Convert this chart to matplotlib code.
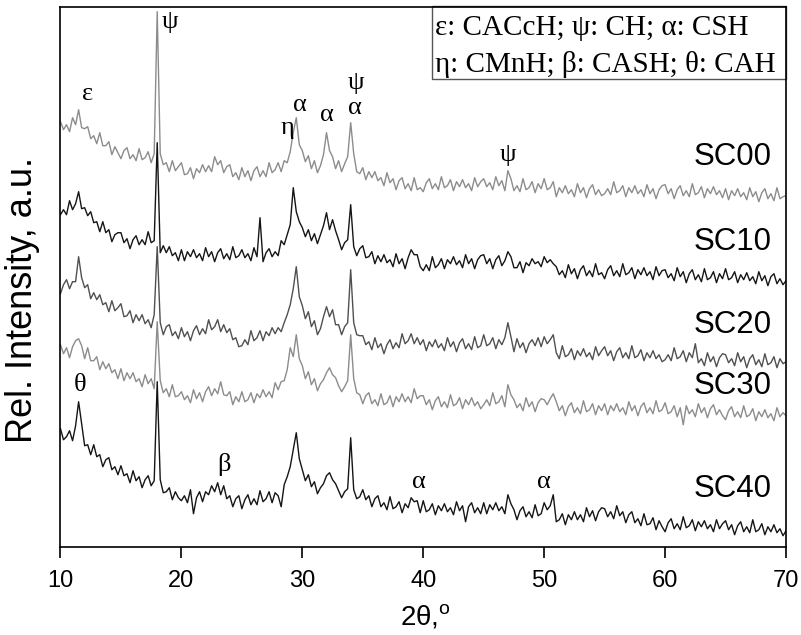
import numpy as np
import matplotlib
matplotlib.use('Agg')
import matplotlib.pyplot as plt
from matplotlib.patches import Rectangle

# 2theta scan, 0.25 deg step
two_theta = np.linspace(10, 70, 241)

sc00 = [425, 417, 422, 415, 429, 422, 437, 419, 418, 420, 408, 411, 403, 414, 401, 401, 405, 392, 400, 394,
        388, 396, 399, 388, 392, 386, 398, 387, 389, 395, 384, 393, 535, 393, 382, 384, 375, 386, 376, 380,
        384, 372, 373, 379, 368, 378, 374, 382, 375, 381, 375, 390, 382, 386, 374, 380, 382, 370, 374, 367,
        379, 370, 376, 366, 376, 380, 370, 376, 370, 384, 374, 377, 384, 375, 386, 384, 395, 414, 429, 402,
        396, 385, 391, 378, 386, 374, 381, 392, 414, 396, 390, 378, 386, 375, 383, 390, 424, 393, 375, 373,
        379, 367, 375, 369, 375, 366, 369, 361, 374, 364, 368, 357, 366, 369, 358, 363, 356, 369, 357, 359,
        355, 364, 368, 358, 363, 357, 370, 359, 361, 367, 356, 365, 360, 367, 359, 363, 356, 369, 360, 365,
        368, 360, 364, 357, 370, 361, 366, 356, 376, 368, 356, 361, 355, 368, 357, 359, 365, 354, 363, 358,
        368, 357, 359, 365, 350, 359, 354, 361, 353, 357, 350, 363, 354, 359, 349, 358, 362, 352, 357, 351,
        353, 358, 352, 365, 354, 356, 361, 350, 359, 354, 361, 353, 357, 350, 362, 353, 358, 348, 357, 361,
        362, 353, 358, 348, 357, 361, 351, 356, 350, 363, 352, 354, 360, 349, 358, 353, 360, 352, 356, 349,
        358, 347, 356, 351, 358, 350, 354, 347, 359, 350, 355, 345, 354, 358, 348, 353, 346, 359, 348, 350,
        351]

sc10 = [332, 337, 332, 346, 337, 343, 355, 338, 339, 331, 335, 324, 325, 315, 325, 314, 317, 305, 312, 314,
        314, 304, 308, 298, 307, 311, 302, 307, 302, 315, 304, 306, 404, 294, 301, 294, 300, 291, 294, 286,
        297, 286, 295, 290, 297, 289, 293, 286, 299, 290, 295, 285, 294, 298, 288, 293, 287, 300, 289, 291,
        297, 289, 293, 286, 299, 290, 329, 285, 294, 298, 290, 295, 291, 306, 302, 312, 322, 359, 335, 325,
        319, 310, 317, 306, 313, 303, 312, 321, 334, 317, 327, 316, 307, 297, 304, 307, 342, 300, 291, 298,
        301, 289, 290, 295, 283, 291, 285, 292, 284, 287, 280, 293, 283, 288, 278, 289, 297, 292, 292, 280,
        276, 282, 276, 290, 279, 282, 288, 278, 287, 283, 290, 282, 286, 279, 292, 283, 288, 278, 287, 291,
        292, 283, 288, 278, 287, 291, 281, 286, 295, 290, 279, 279, 285, 274, 284, 281, 288, 283, 285, 280,
        290, 284, 287, 283, 280, 272, 276, 269, 282, 273, 278, 268, 277, 281, 271, 276, 270, 283, 272, 274,
        268, 277, 281, 271, 276, 270, 283, 272, 274, 279, 268, 277, 272, 279, 271, 275, 267, 280, 271, 276,
        277, 269, 273, 266, 279, 270, 275, 264, 273, 277, 267, 272, 265, 278, 267, 269, 275, 264, 273, 268,
        278, 267, 269, 275, 264, 272, 267, 274, 266, 270, 263, 275, 266, 271, 261, 270, 273, 263, 268, 262,
        266]

sc20 = [253, 262, 267, 258, 265, 265, 290, 269, 259, 262, 248, 254, 247, 252, 242, 244, 235, 246, 236, 239,
        243, 230, 231, 236, 224, 232, 226, 232, 223, 227, 219, 232, 300, 224, 212, 220, 222, 211, 215, 208,
        219, 210, 215, 206, 216, 221, 212, 218, 213, 227, 217, 220, 227, 215, 222, 214, 218, 207, 209, 200,
        201, 207, 202, 216, 206, 209, 216, 206, 215, 211, 219, 213, 219, 215, 224, 232, 242, 258, 280, 250,
        241, 228, 235, 220, 226, 212, 218, 230, 240, 230, 237, 222, 222, 212, 220, 224, 277, 224, 212, 211,
        211, 202, 205, 197, 209, 199, 203, 193, 202, 207, 198, 204, 199, 213, 203, 206, 213, 203, 209, 202,
        207, 196, 205, 200, 207, 199, 203, 196, 209, 200, 205, 195, 204, 208, 198, 203, 197, 210, 199, 201,
        212, 201, 203, 209, 198, 207, 202, 209, 224, 210, 195, 208, 199, 204, 194, 203, 207, 201, 209, 200,
        210, 203, 207, 212, 194, 188, 201, 190, 192, 198, 187, 196, 191, 198, 190, 194, 187, 200, 191, 196,
        200, 191, 196, 186, 195, 199, 189, 194, 188, 201, 189, 191, 197, 186, 194, 189, 196, 188, 192, 185,
        187, 192, 186, 199, 188, 190, 196, 185, 194, 189, 203, 184, 188, 181, 194, 185, 190, 180, 189, 193,
        192, 184, 188, 181, 194, 185, 190, 179, 188, 192, 182, 187, 180, 193, 182, 184, 190, 179, 188, 183,
        185]

sc30 = [202, 193, 199, 189, 200, 206, 208, 201, 188, 199, 186, 186, 190, 177, 185, 178, 183, 174, 177, 168,
        178, 166, 174, 168, 174, 165, 168, 160, 172, 163, 168, 158, 225, 166, 154, 158, 150, 162, 150, 151,
        155, 147, 151, 144, 157, 148, 154, 145, 155, 160, 151, 158, 153, 165, 152, 151, 155, 142, 150, 145,
        155, 145, 147, 154, 144, 153, 149, 157, 150, 155, 149, 164, 157, 165, 166, 177, 199, 190, 212, 188,
        181, 168, 175, 162, 168, 156, 163, 167, 174, 179, 172, 169, 161, 155, 160, 166, 212, 168, 154, 152,
        143, 151, 154, 143, 147, 141, 153, 142, 144, 151, 140, 150, 145, 153, 145, 150, 144, 158, 148, 151,
        151, 142, 147, 137, 146, 150, 140, 145, 139, 152, 141, 143, 149, 138, 147, 142, 149, 141, 145, 138,
        142, 147, 141, 154, 143, 145, 151, 140, 162, 152, 147, 139, 143, 136, 149, 140, 145, 135, 144, 148,
        147, 142, 148, 153, 145, 136, 141, 131, 140, 144, 134, 139, 133, 146, 135, 137, 143, 132, 141, 136,
        143, 132, 141, 136, 143, 135, 139, 132, 145, 136, 141, 131, 140, 144, 134, 139, 133, 146, 135, 137,
        144, 133, 135, 141, 130, 139, 122, 141, 133, 137, 130, 143, 134, 139, 129, 138, 142, 132, 137, 131,
        127, 136, 140, 130, 135, 129, 141, 130, 132, 138, 126, 135, 130, 137, 129, 133, 126, 139, 130, 134,
        131]

sc40 = [118, 107, 110, 116, 106, 121, 145, 123, 101, 102, 92, 102, 90, 92, 80, 87, 89, 77, 80, 72,
        81, 71, 73, 64, 76, 66, 70, 59, 67, 71, 61, 66, 165, 67, 54, 55, 59, 47, 55, 49,
        46, 51, 44, 57, 33, 49, 55, 45, 55, 52, 61, 55, 64, 52, 61, 48, 51, 40, 48, 51,
        38, 47, 52, 42, 48, 42, 56, 45, 48, 55, 44, 54, 51, 40, 62, 70, 80, 97, 114, 88,
        77, 66, 72, 60, 65, 53, 59, 63, 71, 74, 67, 63, 56, 49, 55, 58, 109, 57, 48, 50,
        57, 47, 51, 40, 48, 51, 40, 44, 37, 50, 38, 40, 45, 34, 43, 39, 49, 45, 46, 34,
        46, 35, 37, 43, 32, 41, 36, 43, 35, 39, 32, 45, 36, 41, 25, 40, 44, 34, 39, 33,
        44, 33, 42, 37, 44, 36, 40, 33, 52, 43, 37, 27, 36, 40, 30, 35, 29, 42, 31, 33,
        44, 37, 41, 52, 25, 27, 33, 22, 32, 27, 35, 27, 32, 25, 39, 30, 36, 26, 35, 39,
        38, 30, 35, 28, 41, 31, 35, 24, 32, 35, 24, 28, 21, 33, 22, 23, 29, 17, 26, 20,
        15, 24, 28, 18, 23, 17, 30, 19, 21, 27, 16, 25, 20, 26, 18, 22, 15, 27, 18, 23,
        26, 17, 22, 12, 21, 25, 15, 20, 14, 27, 15, 17, 23, 12, 20, 15, 22, 14, 18, 11,
        16]

samples = ['SC00', 'SC10', 'SC20', 'SC30', 'SC40']
patterns = [sc00, sc10, sc20, sc30, sc40]
colors = ['#8c8c8c', '#151515', '#505050', '#8c8c8c', '#151515']
label_y = [390, 305, 222, 161, 58]

# phase marks: symbol, 2theta, height
peak_sym = ['ψ', 'ε', 'η', 'α', 'α', 'ψ', 'α', 'ψ', 'θ', 'β', 'α', 'α']
peak_x = [19.05, 12.25, 28.75, 29.8, 32.05, 34.4, 34.35, 47.0, 11.6, 23.5, 39.6, 50.0]
peak_y = [525, 453, 419, 442, 432, 464, 439, 392, 162, 82, 65, 65]

legend_lines = ['ε: CACcH; ψ: CH; α: CSH', 'η: CMnH; β: CASH; θ: CAH']

plt.rcParams['font.family'] = ['Liberation Sans', 'DejaVu Sans']
serif = ['Liberation Serif', 'DejaVu Serif']

fig = plt.figure(figsize=(8.01, 6.35), dpi=100)
ax = fig.add_axes([0.0755, 0.139, 0.9058, 0.8505])

for name, y, c in zip(samples, patterns, colors):
    ax.plot(two_theta, y, color=c, lw=1.0)

for name, ly in zip(samples, label_y):
    ax.text(68.8, ly, name, fontsize=22.5, ha='right', va='center')

for s, px, py in zip(peak_sym, peak_x, peak_y):
    ax.text(px, py, s, fontsize=19, ha='center', va='center', family=serif)

ax.add_patch(Rectangle((0.512, 0.866), 0.488, 0.136, transform=ax.transAxes,
                       fill=False, edgecolor='#555555', lw=1.0, clip_on=False))
ax.text(0.516, 0.960, legend_lines[0], transform=ax.transAxes, fontsize=21,
        va='center', ha='left', family=serif)
ax.text(0.516, 0.893, legend_lines[1], transform=ax.transAxes, fontsize=21,
        va='center', ha='left', family=serif)

ax.set_xlim(10, 70)
ax.set_ylim(0, 540)
ax.set_xticks([10, 20, 30, 40, 50, 60, 70])
ax.set_yticks([])
ax.tick_params(axis='x', direction='out', length=8, width=1.2, labelsize=17, pad=9)
for sp in ax.spines.values():
    sp.set_linewidth(1.2)
ax.set_xlabel('2θ,$^{\\mathregular{o}}$', fontsize=20, va='center', ha='center')
ax.xaxis.set_label_coords(0.503, -0.130)
ax.set_ylabel('Rel. Intensity, a.u.', fontsize=26, va='center', ha='center')
ax.yaxis.set_label_coords(-0.052, 0.457)

fig.savefig('out.png', dpi=100)
